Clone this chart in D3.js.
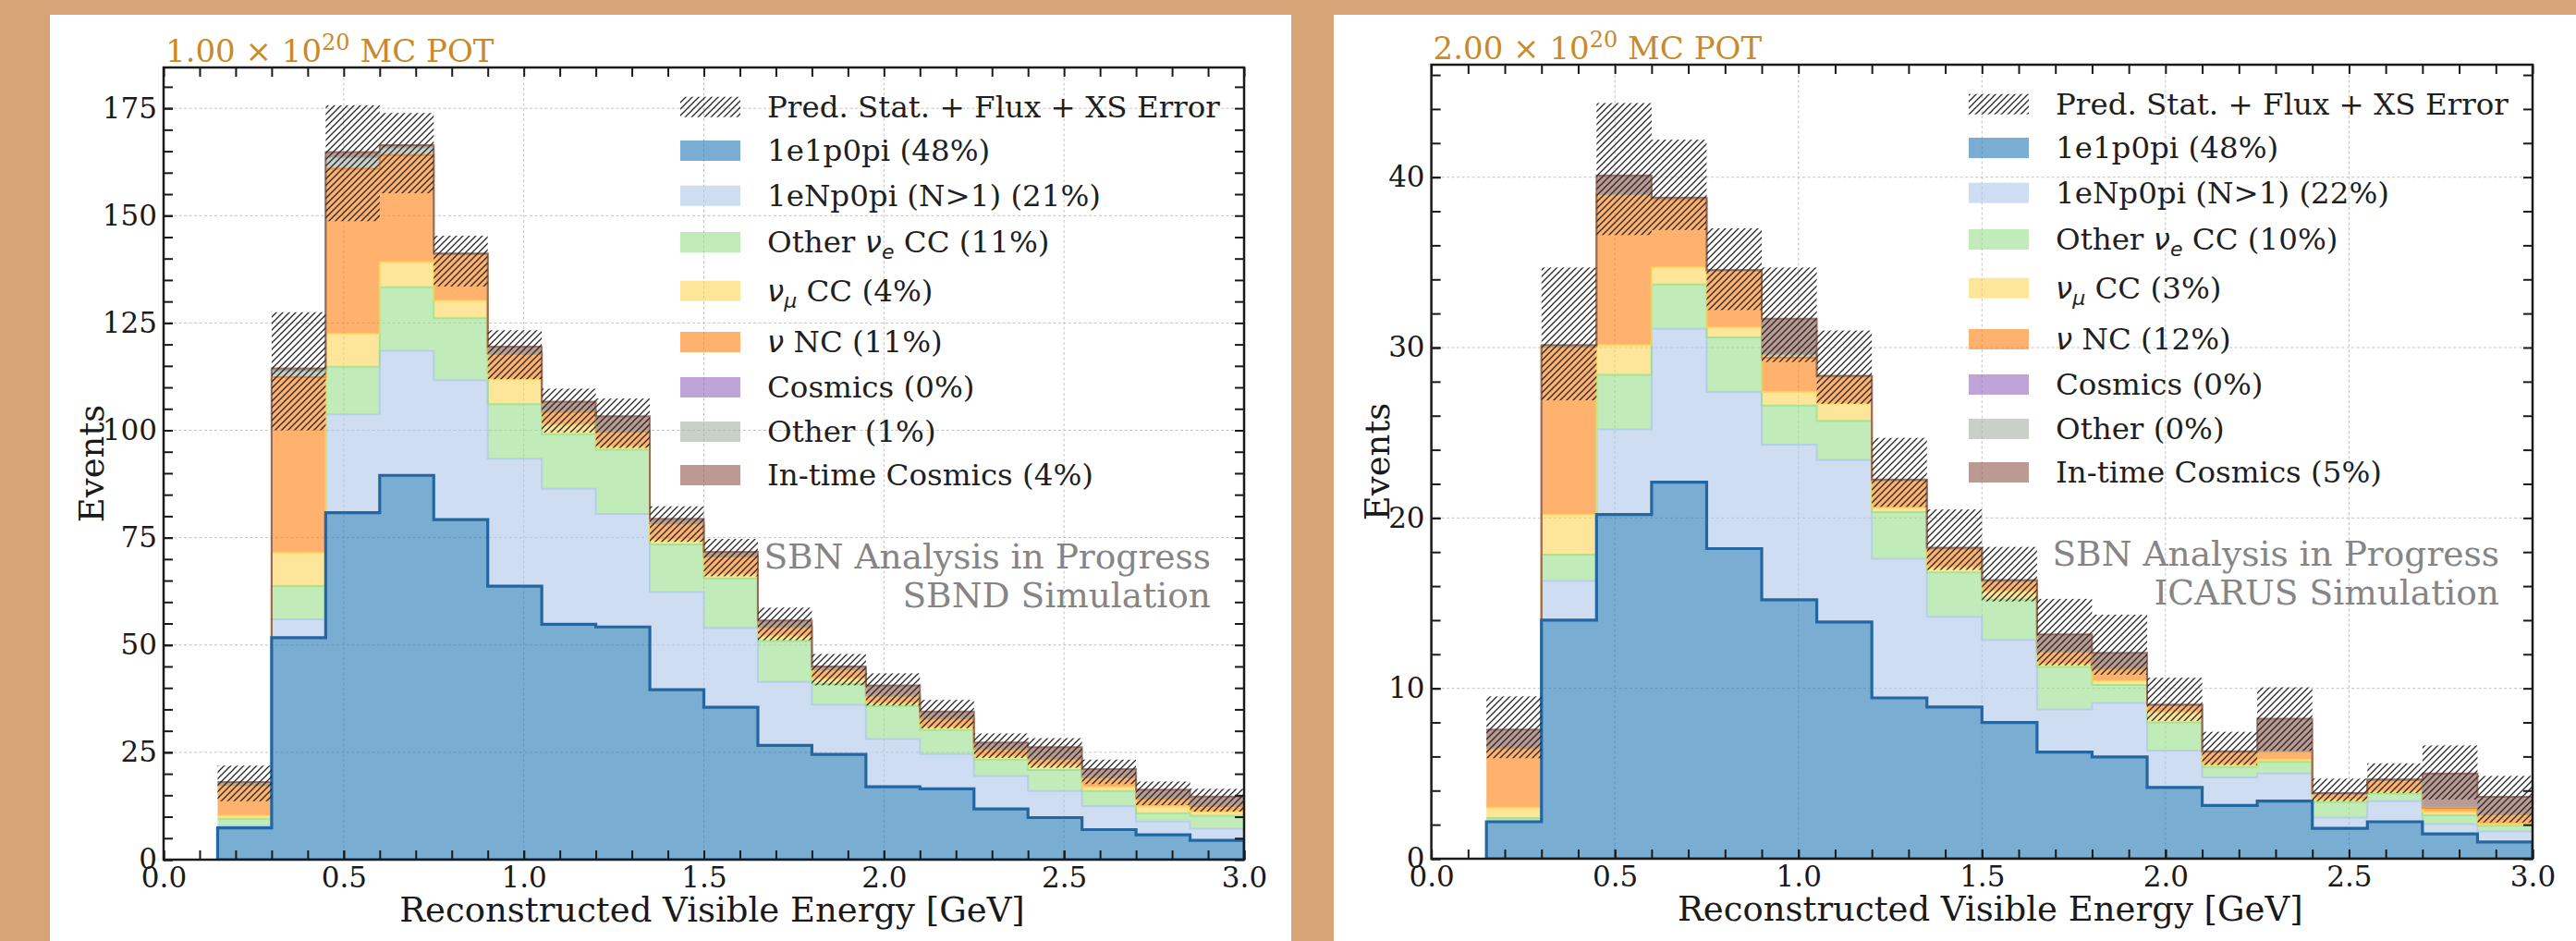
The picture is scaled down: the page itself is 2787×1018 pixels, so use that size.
<!DOCTYPE html>
<html><head><meta charset="utf-8">
<script src="https://cdn.jsdelivr.net/npm/d3@7"></script>
<style>
html,body{margin:0;padding:0;background:#d6a476;}
svg{display:block;}
text{font-family:"DejaVu Serif",serif;}
</style></head><body>
<svg id="chart" width="2787" height="1018"></svg>
<script>
// ---------------- DATA ----------------
const binEdges = [0.15,0.30,0.45,0.60,0.75,0.90,1.05,1.20,1.35,1.50,1.65,1.80,1.95,2.10,2.25,2.40,2.55,2.70,2.85,3.00];
const categories = ["1e1p0pi","1eNp0pi (N>1)","Other νe CC","νμ CC","ν NC","Cosmics","Other","In-time Cosmics"];
const xTickValues = [0,0.5,1.0,1.5,2.0,2.5,3.0];
const sbndYTicks = [0,25,50,75,100,125,150,175];
const icarusYTicks = [0,10,20,30,40];
const sbndPercents = [48,21,11,4,11,0,1,4];
const icarusPercents = [48,22,10,3,12,0,0,5];
const sbndPOT = "1.00";
const icarusPOT = "2.00";

// SBND (left panel), events per bin
const sbnd1e1p0pi   = [7.4,51.7,80.8,89.5,79.2,63.7,54.8,54.2,39.6,35.5,26.6,24.5,17.0,16.5,11.8,9.8,7.0,5.8,4.5];
const sbnd1eNp0pi   = [0.5,4.3,22.9,29.0,32.5,29.7,31.6,26.3,22.7,18.5,14.8,11.6,11.1,8.1,7.7,6.2,5.5,3.1,2.7];
const sbndOtherNueCC= [1.6,7.7,11.1,14.8,14.4,12.7,12.7,15.0,11.1,11.5,9.5,4.8,7.7,5.6,3.8,4.9,3.5,1.9,3.0];
const sbndNumuCC    = [0.7,7.8,7.7,5.9,4.1,5.8,2.2,0.7,1.1,0.9,1.2,1.3,0.7,0.7,0.8,1.1,0.9,1.5,1.0];
const sbndNC        = [7.2,40.9,38.4,24.9,10.8,5.9,3.0,3.5,3.8,4.2,2.1,2.1,1.7,2.0,1.7,1.5,2.3,1.9,1.3];
const sbndCosmics   = [0,0,0,0,0,0,0,0,0,0,0,0,0,0,0,0,0,0,0];
const sbndOther     = [0.2,1.5,2.7,1.8,0.1,0.2,0.2,0.2,0.1,0.1,0.1,0.1,0.1,0.1,0.1,0.1,0.1,0.1,0.1];
const sbndInTime    = [0.5,0.5,1.2,0.5,0.1,1.5,2.2,3.4,1.0,1.0,1.4,0.6,2.3,1.5,1.4,2.6,1.8,2.0,2.1];
const sbndErrLow    = [13.6,100.0,148.7,155.2,133.5,111.9,99.5,95.9,74.0,66.0,51.1,40.6,35.9,30.6,23.7,21.4,17.6,12.7,11.2];
const sbndErrHigh   = [21.9,127.5,175.7,173.9,145.3,123.3,109.7,107.4,82.3,74.7,58.7,47.9,43.4,37.2,29.4,28.3,23.3,18.2,16.5];

// ICARUS (right panel)
const icarus1e1p0pi   = [2.17,14.0,20.2,22.1,18.2,15.2,13.9,9.44,8.9,8.0,6.26,5.97,4.18,3.13,3.38,1.78,2.17,1.46,0.98];
const icarus1eNp0pi   = [0.07,2.3,5.0,9.0,9.2,9.1,9.5,8.16,5.3,4.85,2.5,3.17,2.17,1.65,1.63,0.64,1.21,0.57,0.62];
const icarusOtherNueCC= [0.15,1.55,3.2,2.6,3.2,2.3,2.3,2.75,2.6,2.35,2.49,1.06,1.65,0.61,0.67,0.9,0.44,0.52,0.34];
const icarusNumuCC    = [0.61,2.35,1.75,1.0,0.6,0.8,1.0,0.25,0.3,0.5,0.2,0.23,0.6,0.16,0.14,0.15,0.14,0.19,0.09];
const icarusNC        = [3.5,9.86,8.85,4.0,3.3,2.0,1.6,1.6,1.1,0.6,0.7,0.73,0.4,0.71,0.5,0.35,0.67,0.25,0.58];
const icarusCosmics   = [0,0,0,0,0,0,0,0,0,0,0,0,0,0,0,0,0,0,0];
const icarusOther     = [0,0.04,0,0.05,0,0.2,0,0,0,0,0,0,0,0,0,0,0,0.06,0];
const icarusInTime    = [1.08,0.05,1.1,0.05,0.05,2.1,0.05,0.05,0.05,0.05,1.02,0.92,0.05,0.04,1.9,0.03,0.02,1.96,1.02];
const icarusErrLow    = [5.9,26.9,36.6,36.9,32.2,29.15,26.7,20.65,16.95,15.1,11.35,10.8,8.09,5.5,6.32,3.38,3.86,3.48,2.13];
const icarusErrHigh   = [9.53,34.7,44.35,42.2,37.0,34.7,31.0,24.7,20.5,18.3,15.25,14.32,10.62,7.45,10.06,4.7,5.6,6.65,4.86];

// ---------------- STYLE / LAYOUT ----------------
const baseColors = ["#1f77b4","#aec7e8","#98df8a","#fcd557","#ff7f0e","#9467bd","#a3b0a3","#8c564b"];
const panels = [
  {frame:{x:54,y:16,w:1343,h:1002}, ax:{x0:177,x1:1346,y0:73,y1:930}, ymax:184.5, yTicks:sbndYTicks, yMinor:5,
   pot:sbndPOT, det:"SBND Simulation", percents:sbndPercents,
   series:[sbnd1e1p0pi,sbnd1eNp0pi,sbndOtherNueCC,sbndNumuCC,sbndNC,sbndCosmics,sbndOther,sbndInTime],
   errLow:sbndErrLow, errHigh:sbndErrHigh, ylabX:112},
  {frame:{x:1443,y:16,w:1344,h:1002}, ax:{x0:1548.6,x1:2740,y0:70,y1:929}, ymax:46.6, yTicks:icarusYTicks, yMinor:2,
   pot:icarusPOT, det:"ICARUS Simulation", percents:icarusPercents,
   series:[icarus1e1p0pi,icarus1eNp0pi,icarusOtherNueCC,icarusNumuCC,icarusNC,icarusCosmics,icarusOther,icarusInTime],
   errLow:icarusErrLow, errHigh:icarusErrHigh, ylabX:1503}
];
const legendRowOffsets = [42.7,90,138.7,189,241.7,297,346,394,441];

const svg = d3.select("#chart");
svg.append("rect").attr("x",0).attr("y",0).attr("width",2787).attr("height",1018).attr("fill","#d6a476");
const defs = svg.append("defs");
defs.append("pattern").attr("id","hatch").attr("patternUnits","userSpaceOnUse")
  .attr("width",7).attr("height",7)
  .append("path").attr("d","M-1,1 l2,-2 M0,7 l7,-7 M6,8 l2,-2")
  .attr("stroke","#262626").attr("stroke-width",1.3).attr("fill","none");

function labelParts(k, pct){
  const p = " ("+pct+"%)";
  switch(k){
    case 0: return [{t:"1e1p0pi"+p}];
    case 1: return [{t:"1eNp0pi (N>1)"+p}];
    case 2: return [{t:"Other "},{t:"ν",m:1},{t:"e",m:1,sub:1},{t:" CC"+p,after:1}];
    case 3: return [{t:"ν",m:1},{t:"μ",m:1,sub:1},{t:" CC"+p,after:1}];
    case 4: return [{t:"ν",m:1},{t:" NC"+p}];
    case 5: return [{t:"Cosmics"+p}];
    case 6: return [{t:"Other"+p}];
    case 7: return [{t:"In-time Cosmics"+p}];
  }
}

panels.forEach((p,pi)=>{
  svg.append("rect").attr("x",p.frame.x).attr("y",p.frame.y).attr("width",p.frame.w).attr("height",p.frame.h).attr("fill","#ffffff");
  const g = svg.append("g");
  const x = d3.scaleLinear().domain([0,3]).range([p.ax.x0,p.ax.x1]);
  const y = d3.scaleLinear().domain([0,p.ymax]).range([p.ax.y1,p.ax.y0]);
  defs.append("clipPath").attr("id","clip"+pi).append("rect")
    .attr("x",p.ax.x0).attr("y",p.ax.y0).attr("width",p.ax.x1-p.ax.x0).attr("height",p.ax.y1-p.ax.y0);

  // grid
  const grid = g.append("g").attr("stroke","#c4c4c4").attr("stroke-width",1).attr("stroke-dasharray","3,2.5");
  xTickValues.slice(1,-1).forEach(v=>grid.append("line").attr("x1",x(v)).attr("x2",x(v)).attr("y1",p.ax.y0).attr("y2",p.ax.y1));
  p.yTicks.slice(1).forEach(v=>grid.append("line").attr("x1",p.ax.x0).attr("x2",p.ax.x1).attr("y1",y(v)).attr("y2",y(v)));

  // stacked data
  const keys = categories.map((c,i)=>"k"+i);
  const rows = binEdges.slice(0,-1).map((b,i)=>{const o={}; keys.forEach((k,j)=>o[k]=p.series[j][i]); return o;});
  rows.push(rows[rows.length-1]);
  const stacked = d3.stack().keys(keys)(rows);
  const area = d3.area().x((d,i)=>x(binEdges[i])).y0(d=>y(d[0])).y1(d=>y(d[1])).curve(d3.curveStepAfter);
  const topLine = d3.line().x((d,i)=>x(binEdges[i])).y(d=>y(d[1])).curve(d3.curveStepAfter);

  const plot = g.append("g").attr("clip-path","url(#clip"+pi+")");
  stacked.forEach((layer,j)=>{
    plot.append("path").attr("d",area(layer)).attr("fill",baseColors[j]).attr("fill-opacity",0.6).attr("stroke","none");
  });
  stacked.forEach((layer,j)=>{
    if(j===0) return;
    if(d3.sum(p.series[j])===0) return;
    plot.append("path").attr("d",topLine(layer)).attr("fill","none").attr("stroke",baseColors[j])
      .attr("stroke-opacity",0.75).attr("stroke-width",2);
  });
  plot.append("path").attr("d",area(stacked[0])).attr("fill","none").attr("stroke","#2366a2").attr("stroke-width",3.2);

  // error hatch
  plot.append("g").selectAll("rect").data(p.errLow).join("rect")
    .attr("x",(d,i)=>x(binEdges[i])).attr("width",(d,i)=>x(binEdges[i+1])-x(binEdges[i]))
    .attr("y",(d,i)=>y(p.errHigh[i])).attr("height",(d,i)=>y(d)-y(p.errHigh[i]))
    .attr("fill","url(#hatch)");

  // axes
  const tickLen = 10;
  const styleAxis = sel=>{ sel.select(".domain").remove(); sel.selectAll(".tick line").attr("stroke","#1a1a1a").attr("stroke-width",2);
    sel.selectAll("text").attr("font-family","DejaVu Serif").attr("font-size",31).attr("fill","#1a1a1a"); };
  const xMinor = d3.range(0,3.0001,0.1);
  const yMinorVals = d3.range(0,p.ymax,p.yMinor);
  g.append("g").attr("transform",`translate(0,${p.ax.y1})`)
    .call(d3.axisBottom(x).tickValues(xMinor).tickSize(-tickLen).tickFormat("")).call(styleAxis);
  g.append("g").attr("transform",`translate(0,${p.ax.y1})`)
    .call(d3.axisBottom(x).tickValues(xTickValues).tickSize(-tickLen).tickPadding(8).tickFormat(d3.format(".1f"))).call(styleAxis);
  g.append("g").attr("transform",`translate(0,${p.ax.y0})`)
    .call(d3.axisTop(x).tickValues(xMinor).tickSize(-tickLen).tickFormat("")).call(styleAxis);
  g.append("g").attr("transform",`translate(${p.ax.x0},0)`)
    .call(d3.axisLeft(y).tickValues(yMinorVals).tickSize(-tickLen).tickFormat("")).call(styleAxis);
  g.append("g").attr("transform",`translate(${p.ax.x0},0)`)
    .call(d3.axisLeft(y).tickValues(p.yTicks).tickSize(-tickLen).tickPadding(7).tickFormat(d3.format("d"))).call(styleAxis);
  g.append("g").attr("transform",`translate(${p.ax.x1},0)`)
    .call(d3.axisRight(y).tickValues(yMinorVals).tickSize(-tickLen).tickFormat("")).call(styleAxis);
  g.append("rect").attr("x",p.ax.x0).attr("y",p.ax.y0).attr("width",p.ax.x1-p.ax.x0).attr("height",p.ax.y1-p.ax.y0)
    .attr("fill","none").attr("stroke","#1a1a1a").attr("stroke-width",2.5);

  // axis labels
  g.append("text").attr("x",(p.ax.x0+p.ax.x1)/2+9).attr("y",p.ax.y1+67).attr("text-anchor","middle")
    .attr("font-size",37).attr("fill","#1a1a1a").text("Reconstructed Visible Energy [GeV]");
  g.append("text").attr("transform",`translate(${p.ylabX},${(p.ax.y0+p.ax.y1)/2}) rotate(-90)`).attr("text-anchor","middle")
    .attr("font-size",37).attr("fill","#1a1a1a").text("Events");

  // POT title
  const t = g.append("text").attr("x",p.ax.x0+2).attr("y",p.ax.y0-6).attr("font-size",34).attr("fill","#c98a2b");
  t.append("tspan").text(p.pot+" × 10");
  t.append("tspan").attr("dy",-13).attr("font-size",24).text("20");
  t.append("tspan").attr("dy",13).text(" MC POT");

  // SBN text
  const sx = p.ax.x1-36;
  g.append("text").attr("x",sx).attr("y",p.ax.y0+542).attr("text-anchor","end").attr("font-size",37.5).attr("fill","#858585").text("SBN Analysis in Progress");
  g.append("text").attr("x",sx).attr("y",p.ax.y0+584).attr("text-anchor","end").attr("font-size",37.5).attr("fill","#858585").text(p.det);

  // legend
  const lx = p.ax.x1-610, tx = lx+94;
  const leg = g.append("g");
  legendRowOffsets.forEach((off,r)=>{
    const cy = p.ax.y0+off;
    if(r===0){
      leg.append("rect").attr("x",lx).attr("y",cy-11).attr("width",65).attr("height",22).attr("fill","url(#hatch)");
      leg.append("text").attr("x",tx).attr("y",cy+11).attr("font-size",32.5).attr("fill","#1f1f1f").text("Pred. Stat. + Flux + XS Error");
    } else {
      const k = r-1;
      leg.append("rect").attr("x",lx).attr("y",cy-11).attr("width",65).attr("height",22).attr("fill",baseColors[k]).attr("fill-opacity",0.6);
      const tt = leg.append("text").attr("x",tx).attr("y",cy+11).attr("font-size",32.5).attr("fill","#1f1f1f");
      labelParts(k,p.percents[k]).forEach(part=>{
        const s = tt.append("tspan").text(part.t);
        if(part.m){ s.attr("font-family","DejaVu Sans").attr("font-style","italic"); }
        if(part.sub){ s.attr("font-size",22).attr("dy",7); }
        if(part.after){ s.attr("dy",-7); }
      });
    }
  });
});
</script>
</body></html>
